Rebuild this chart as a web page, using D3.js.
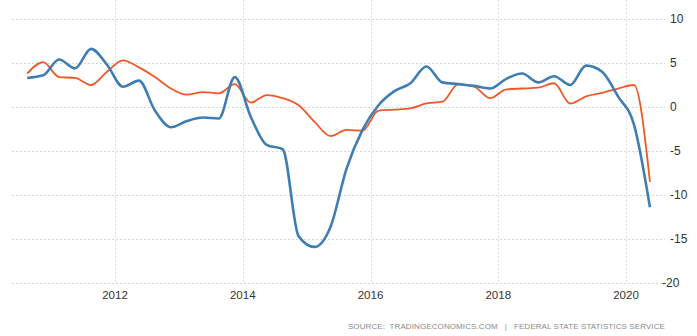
<!DOCTYPE html>
<html><head><meta charset="utf-8">
<script src="https://cdn.jsdelivr.net/npm/d3@7/dist/d3.min.js"></script>
<style>
html,body{margin:0;padding:0;background:#fff;}
svg{display:block;font-family:"Liberation Sans",Arial,sans-serif;}
</style></head>
<body>
<svg id="chart" width="697" height="336"></svg>
<script>
// ---- data ----
const quarters = ["2010Q3","2010Q4","2011Q1","2011Q2","2011Q3","2011Q4","2012Q1","2012Q2","2012Q3","2012Q4",
  "2013Q1","2013Q2","2013Q3","2013Q4","2014Q1","2014Q2","2014Q3","2014Q4","2015Q1","2015Q2",
  "2015Q3","2015Q4","2016Q1","2016Q2","2016Q3","2016Q4","2017Q1","2017Q2","2017Q3","2017Q4",
  "2018Q1","2018Q2","2018Q3","2018Q4","2019Q1","2019Q2","2019Q3","2019Q4","2020Q1","2020Q2"];
const blueValues = [3.3,3.6,5.4,4.4,6.6,4.8,2.3,3.0,-0.4,-2.3,
  -1.6,-1.2,-1.3,3.4,-1.1,-4.3,-4.8,-14.7,-15.9,-13.6,
  -7.0,-2.6,0.2,1.8,2.7,4.6,2.8,2.6,2.4,2.1,
  3.2,3.8,2.8,3.5,2.5,4.7,4.0,1.2,-2.0,-11.4];
const orangeValues = [3.8,5.1,3.4,3.3,2.5,4.0,5.3,4.5,3.4,2.1,
  1.4,1.7,1.55,2.6,0.5,1.35,1.0,0.2,-1.7,-3.3,
  -2.6,-2.7,-0.4,-0.3,-0.15,0.4,0.6,2.6,2.3,1.0,
  2.0,2.1,2.2,2.7,0.4,1.2,1.6,2.1,2.5,-8.5];
const yTicks = [10,5,0,-5,-10,-15,-20];
const xTicks = [2012,2014,2016,2018,2020];
const sourceText = "SOURCE:  TRADINGECONOMICS.COM   |   FEDERAL STATE STATISTICS SERVICE";

// ---- helpers ----
const qToYear = q => +q.slice(0,4) + (+q.slice(5) - 0.5) / 4;

const svg = d3.select("#chart");
const x = d3.scaleLinear().domain([2012, 2020]).range([115, 626]);
const y = d3.scaleLinear().domain([-20, 10]).range([283, 19]);
const gridLeft = 12, gridRight = 665, gridTop = 0;

// horizontal grid
svg.append("g").selectAll("line").data(yTicks).join("line")
  .attr("x1", gridLeft).attr("x2", gridRight)
  .attr("y1", d => y(d) + 0.5).attr("y2", d => y(d) + 0.5)
  .attr("stroke", "#d6d6d6").attr("stroke-dasharray", "2,2");

// vertical grid
svg.append("g").selectAll("line").data(xTicks).join("line")
  .attr("x1", d => Math.round(x(d)) + 0.5).attr("x2", d => Math.round(x(d)) + 0.5)
  .attr("y1", gridTop).attr("y2", y(-20))
  .attr("stroke", "#e0e0e0").attr("stroke-dasharray", "2,2");

// y labels
svg.append("g").selectAll("text").data(yTicks).join("text")
  .attr("x", gridRight + 5).attr("y", d => y(d))
  .attr("dx", d => d === -20 ? -8 : 0)
  .attr("dy", "0.35em")
  .attr("font-size", 12).attr("fill", "#333")
  .text(d => d);

// x labels
svg.append("g").selectAll("text").data(xTicks).join("text")
  .attr("x", d => x(d)).attr("y", y(-20) + 16)
  .attr("text-anchor", "middle")
  .attr("font-size", 11.5).attr("fill", "#333")
  .text(d => d);

const line = d3.line().x(d => x(d[0])).y(d => y(d[1])).curve(d3.curveMonotoneX);
const orangeData = quarters.map((q,i) => [qToYear(q), orangeValues[i]]);
const blueData = quarters.map((q,i) => [qToYear(q), blueValues[i]]);

svg.append("path").datum(orangeData).attr("d", line)
  .attr("fill", "none").attr("stroke", "#f0582a").attr("stroke-width", 1.8);
svg.append("path").datum(blueData).attr("d", line)
  .attr("fill", "none").attr("stroke", "#3f7db3").attr("stroke-width", 2.6);

// source
svg.append("text").attr("x", 665).attr("y", 329)
  .attr("text-anchor", "end")
  .attr("xml:space", "preserve").style("white-space", "pre")
  .attr("font-size", 8).attr("fill", "#8a8a8a")
  .attr("letter-spacing", 0.1)
  .text(sourceText);
</script>
</body></html>
